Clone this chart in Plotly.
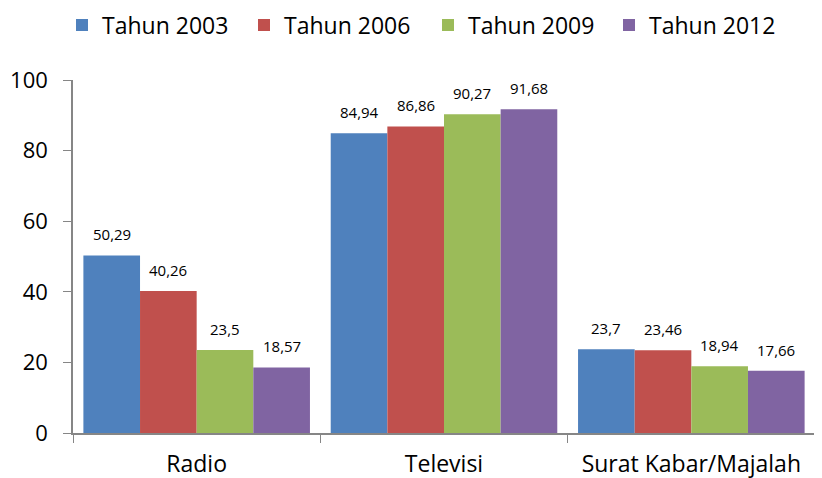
import plotly.graph_objects as go

categories = ["Radio", "Televisi", "Surat Kabar/Majalah"]
series_names = ["Tahun 2003", "Tahun 2006", "Tahun 2009", "Tahun 2012"]
values_2003 = [50.29, 84.94, 23.7]
values_2006 = [40.26, 86.86, 23.46]
values_2009 = [23.5, 90.27, 18.94]
values_2012 = [18.57, 91.68, 17.66]
labels_2003 = ["50,29", "84,94", "23,7"]
labels_2006 = ["40,26", "86,86", "23,46"]
labels_2009 = ["23,5", "90,27", "18,94"]
labels_2012 = ["18,57", "91,68", "17,66"]
colors = ["#4F81BD", "#C0504D", "#9BBB59", "#8064A2"]
y_ticks = [0, 20, 40, 60, 80, 100]

# layout constants
W, H = 814, 470
ML, MR, MT, MB = 65, 7, 72, 45
legend_px = [54, 236, 420, 601]  # left edge of each legend entry (figure px)
legend_center_px = 17            # vertical centre of legend row (figure px)

bar_w = 0.229
all_vals = [values_2003, values_2006, values_2009, values_2012]
all_labs = [labels_2003, labels_2006, labels_2009, labels_2012]
legend_ids = ["legend", "legend2", "legend3", "legend4"]

fig = go.Figure()
for k, (name, vals, labs, col) in enumerate(zip(series_names, all_vals, all_labs, colors)):
    off = (k - 2) * bar_w
    fig.add_trace(go.Bar(
        name=name, x=categories, y=vals, showlegend=True,
        offset=off, width=bar_w, legend=legend_ids[k],
        marker=dict(color=col, line=dict(width=0)),
    ))
    for i, (v, t) in enumerate(zip(vals, labs)):
        fig.add_annotation(x=i + off + bar_w / 2, y=v, text=t, showarrow=False,
                           yanchor="bottom", yshift=9,
                           font=dict(family="Open Sans", size=15, color="#000000"))

plot_w = W - ML - MR
plot_h = H - MT - MB
leg_y = 1 + (MT - legend_center_px) / plot_h
legends = {}
for lid, px in zip(legend_ids, legend_px):
    legends[lid] = dict(orientation="h", x=(px - ML) / plot_w, xanchor="left",
                        y=leg_y, yanchor="middle",
                        font=dict(family="Open Sans", size=23), itemwidth=30,
                        bgcolor="rgba(0,0,0,0)")

fig.update_layout(
    width=W, height=H,
    margin=dict(l=ML, r=MR, t=MT, b=MB, autoexpand=False),
    barmode="overlay", showlegend=True,
    plot_bgcolor="white", paper_bgcolor="white",
    font=dict(family="Open Sans", color="#000000"),
    **legends,
)
fig.update_xaxes(showline=True, linecolor="#868686", linewidth=1.5,
                 ticks="outside", tickson="boundaries", ticklen=8, tickcolor="#868686",
                 tickfont=dict(size=23), showgrid=False, ticklabelstandoff=10,
                 range=[-0.5, 2.5])
fig.update_yaxes(range=[0, 100], tickvals=y_ticks, showline=True, linecolor="#868686", linewidth=1.5,
                 ticks="outside", ticklen=8, tickcolor="#868686", showgrid=False,
                 tickfont=dict(size=22), zeroline=False, ticklabelstandoff=11)

fig.write_html("out.html")
